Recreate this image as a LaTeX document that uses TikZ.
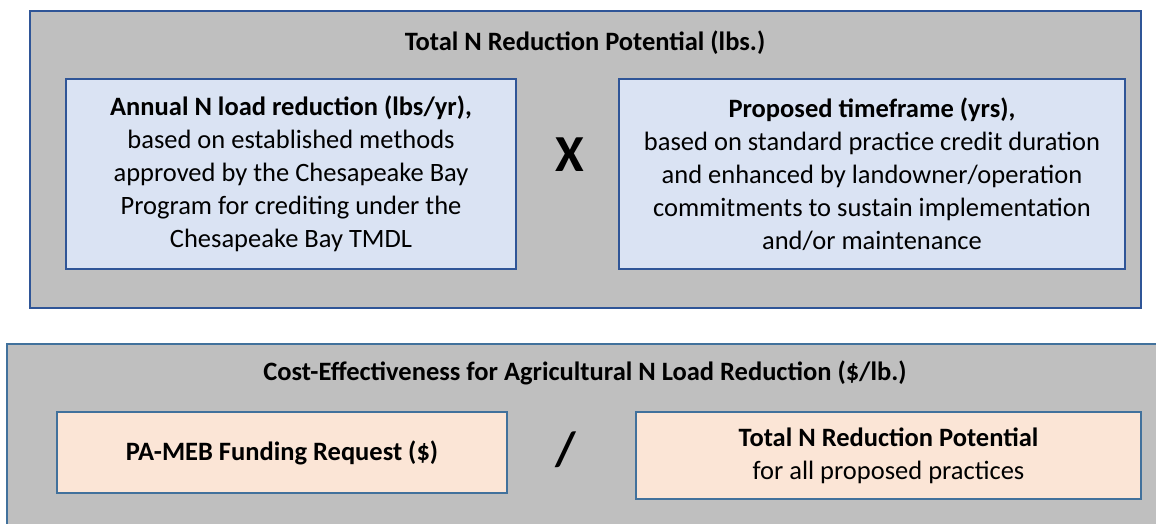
\documentclass[tikz,border=0pt]{standalone}
\usepackage{fontspec}
\setmainfont{Carlito}
\usetikzlibrary{positioning}

\definecolor{panelgray}{HTML}{BFBFBF}
\definecolor{darkblue}{HTML}{2F5597}
\definecolor{steelblue}{HTML}{41719C}
\definecolor{paleblue}{HTML}{DAE3F3}
\definecolor{palepeach}{HTML}{FBE5D6}

\tikzset{
	panel/.style = {line width=2.5pt, fill=panelgray},
	term/.style = {line width=2.5pt, inner sep=0pt, align=center,
		font=\fontsize{26.5}{33}\selectfont},
	heading/.style = {font=\fontsize{26.5}{30}\selectfont\bfseries},
	operator/.style = {font=\fontsize{52}{52}\selectfont\bfseries}
}

\begin{document}
\begin{tikzpicture}[x=1pt, y=-1pt]
	\useasboundingbox[fill=white] (0,0) rectangle (1156,524);
	\clip (0,0) rectangle (1156,524);
	% total reduction potential
	\draw[panel, draw=darkblue] (30,11) rectangle (1141,308);
	\node[heading] (potential) at (585,43) {Total N Reduction Potential (lbs.)};
	\node[term, draw=darkblue, fill=paleblue, minimum width=450pt, minimum height=190pt] (annual) at (291,174)
		{\textbf{Annual N load reduction (lbs/yr),}\\
		based on established methods\\
		approved by the Chesapeake Bay\\
		Program for crediting under the\\
		Chesapeake Bay TMDL};
	\node[term, draw=darkblue, fill=paleblue, minimum width=506pt, minimum height=190pt] (timeframe) at (872,174)
		{\textbf{Proposed timeframe (yrs),}\\
		based on standard practice credit duration\\
		and enhanced by landowner/operation\\
		commitments to sustain implementation\\
		and/or maintenance};
	\node[operator] (times) at (570,155) {X};
	% cost-effectiveness
	\draw[panel, draw=steelblue] (7,344) rectangle (1180,560);
	\node[heading] (cost) at (585,373) {Cost-Effectiveness for Agricultural N Load Reduction (\$/lb.)};
	\node[term, draw=steelblue, fill=palepeach, minimum width=450pt, minimum height=81pt] (funding) at (282,452.5) {\textbf{PA-MEB Funding Request (\$)}};
	\node[term, draw=steelblue, fill=palepeach, minimum width=505pt, minimum height=87pt] (total) at (888.5,455.5)
		{\textbf{Total N Reduction Potential}\\ for all proposed practices};
	\node[operator, font=\fontsize{48}{48}\selectfont\bfseries] (over) at (566,450) {/};
\end{tikzpicture}
\end{document}
